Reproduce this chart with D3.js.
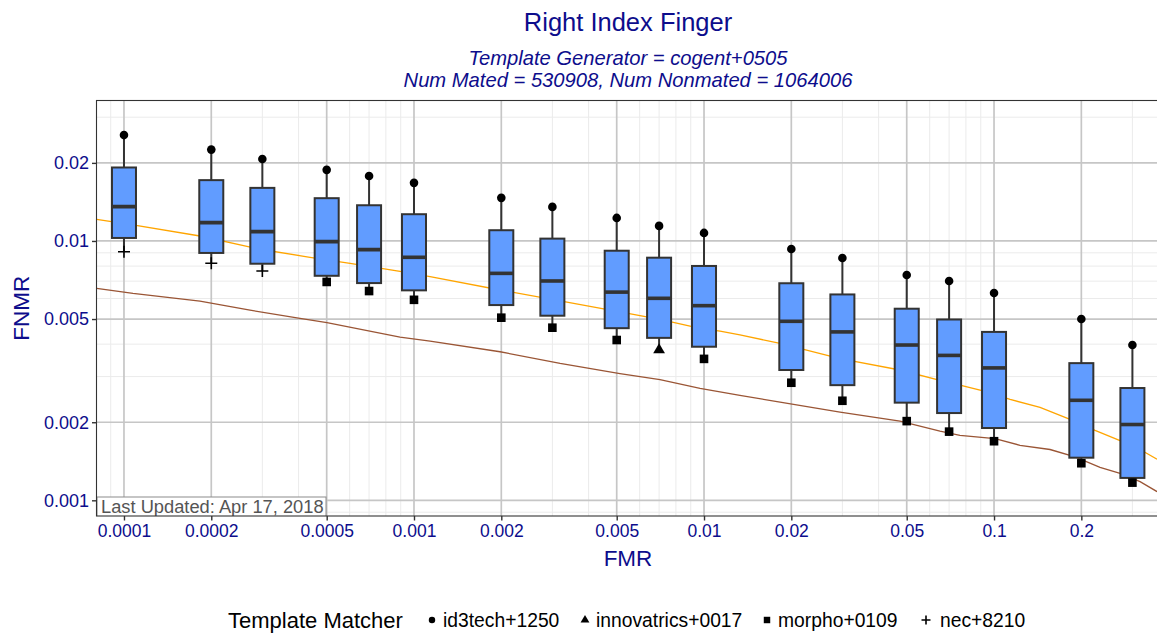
<!DOCTYPE html>
<html><head><meta charset="utf-8">
<script src="https://cdn.jsdelivr.net/npm/d3@7"></script>
<style>body{margin:0;background:#fff}svg{display:block;font-family:"Liberation Sans",Arial,sans-serif}</style>
</head><body><svg id="c" width="1157" height="633"></svg>
<script>
// ---- data ----
const fmr   = [0.0001,0.0002,0.0003,0.0005,0.0007,0.001,0.002,0.003,0.005,0.007,0.01,0.02,0.03,0.05,0.07,0.1,0.2,0.3];
const hiVal = [0.0256,0.0225,0.0207,0.0188,0.0178,0.01675,0.01466,0.01353,0.01227,0.01143,0.01074,0.00931,0.0086,0.00739,0.00701,0.0063,0.0050,0.00397];
const q3Val = [0.0192,0.01716,0.01602,0.01462,0.01373,0.01268,0.0110,0.01021,0.00917,0.00862,0.00801,0.00687,0.00622,0.00548,0.00498,0.00446,0.00338,0.00271];
const medVal= [0.01356,0.01177,0.01086,0.00994,0.00926,0.00865,0.0075,0.00701,0.00635,0.00601,0.00563,0.0049,0.00446,0.00397,0.00362,0.00324,0.00243,0.00196];
const q1Val = [0.01027,0.00899,0.00817,0.00734,0.00688,0.00645,0.00566,0.00515,0.00461,0.00423,0.00391,0.00318,0.00278,0.00238,0.00217,0.0019,0.00146,0.00122];
const loVal = [0.00909,0.0082,0.00766,0.00695,0.00641,0.00593,0.00506,0.00463,0.00415,0.0038,0.00351,0.00284,0.00242,0.00202,0.00184,0.00169,0.00139,0.00117];
const hiMatcher = fmr.map(()=> "id3tech+1250");
const loMatcher = ["nec+8210","nec+8210","nec+8210","morpho+0109","morpho+0109","morpho+0109","morpho+0109","morpho+0109","morpho+0109","innovatrics+0017","morpho+0109","morpho+0109","morpho+0109","morpho+0109","morpho+0109","morpho+0109","morpho+0109","morpho+0109"];
const orangeFMR  = [8.05e-5,1.074e-4,1.828e-4,2.944e-4,4.38e-4,6.02e-4,8.95e-4,1.136e-3,1.98e-3,3.19e-3,5.13e-3,7.05e-3,9.69e-3,0.01136,0.0133,0.01829,0.02944,0.0474,0.0651,0.0763,0.0917,0.1136,0.1441,0.1829,0.2230,0.2720,0.3188,0.3648];
const orangeFNMR = [0.01212,0.01153,0.01045,0.00929,0.00865,0.0082,0.00764,0.00728,0.00647,0.00588,0.00533,0.00498,0.0046,0.00449,0.00434,0.00403,0.00352,0.00318,0.0029,0.00278,0.00264,0.00245,0.00228,0.00205,0.00186,0.0017,0.00157,0.00144];
const brownFMR  = [8.05e-5,1.074e-4,1.828e-4,2.72e-4,4.045e-4,5.01e-4,8.95e-4,1.136e-3,1.98e-3,3.19e-3,5.13e-3,7.05e-3,9.69e-3,0.0133,0.01829,0.02944,0.0474,0.0651,0.0763,0.1008,0.1229,0.156,0.1903,0.232,0.272,0.3188,0.3648];
const brownFNMR = [0.00657,0.00628,0.00586,0.00541,0.00503,0.00484,0.00426,0.00411,0.00374,0.00337,0.00308,0.00292,0.0027,0.00254,0.00239,0.00219,0.00202,0.00185,0.00178,0.00173,0.00163,0.00157,0.00147,0.00134,0.00127,0.00118,0.00108];
const xTicks = [0.0001,0.0002,0.0005,0.001,0.002,0.005,0.01,0.02,0.05,0.1,0.2];
const xTickLabels = ["0.0001","0.0002","0.0005","0.001","0.002","0.005","0.01","0.02","0.05","0.1","0.2"];
const yTicks = [0.001,0.002,0.005,0.01,0.02];
const yTickLabels = ["0.001","0.002","0.005","0.01","0.02"];
const matchers = ["id3tech+1250","innovatrics+0017","morpho+0109","nec+8210"];

// ---- layout ----
const L=96.5, R=1159.5, T=100.5, B=516;
const x = d3.scaleLog().domain([8.04e-5,0.372]).range([L,R]);
const y = d3.scaleLog().domain([0.00087,0.0348]).range([B,T]);
const svg = d3.select("#c");
const blue = "#0d0d8c";

svg.append("defs").append("clipPath").attr("id","pc").append("rect")
  .attr("x",L).attr("y",T).attr("width",R-L).attr("height",B-T);

svg.append("rect").attr("x",L).attr("y",T).attr("width",R-L).attr("height",B-T).attr("fill","#fff");

// minor grid
function minors(lo,hi,major){
  const out=[];
  for(let e=-6;e<=1;e++) for(let m=1;m<=9;m++){
    const v=+(m*Math.pow(10,e)).toPrecision(3);
    if(v>=lo && v<=hi && !major.some(t=>Math.abs(t-v)/v<1e-6)) out.push(v);
  }
  return out;
}
const g = svg.append("g").attr("clip-path","url(#pc)");
g.selectAll(".vx").data(minors(x.domain()[0],x.domain()[1],xTicks)).join("line")
  .attr("x1",d=>x(d)).attr("x2",d=>x(d)).attr("y1",T).attr("y2",B)
  .attr("stroke","#ebebeb").attr("stroke-width",1);
g.selectAll(".hy").data(minors(y.domain()[0],y.domain()[1],yTicks)).join("line")
  .attr("y1",d=>y(d)).attr("y2",d=>y(d)).attr("x1",L).attr("x2",R)
  .attr("stroke","#ebebeb").attr("stroke-width",1);
g.selectAll(".mx").data(xTicks).join("line")
  .attr("x1",d=>x(d)).attr("x2",d=>x(d)).attr("y1",T).attr("y2",B)
  .attr("stroke","#c6c6c6").attr("stroke-width",1.7);
g.selectAll(".my").data(yTicks).join("line")
  .attr("y1",d=>y(d)).attr("y2",d=>y(d)).attr("x1",L).attr("x2",R)
  .attr("stroke","#c6c6c6").attr("stroke-width",1.7);

// curves
const line = d3.line().x(d=>x(d[0])).y(d=>y(d[1]));
g.append("path").datum(orangeFMR.map((f,i)=>[f,orangeFNMR[i]])).attr("d",line)
  .attr("fill","none").attr("stroke","#FFA500").attr("stroke-width",1.3);
g.append("path").datum(brownFMR.map((f,i)=>[f,brownFNMR[i]])).attr("d",line)
  .attr("fill","none").attr("stroke","#9a5535").attr("stroke-width",1.3);

// boxes
const half = Math.pow(10,0.0414);
const boxes = fmr.map((f,i)=>({f,hi:hiVal[i],q3:q3Val[i],med:medVal[i],q1:q1Val[i],lo:loVal[i]}));
const bg = g.append("g");
bg.selectAll(".wh").data(boxes).join("line")
  .attr("x1",d=>x(d.f)).attr("x2",d=>x(d.f)).attr("y1",d=>y(d.hi)).attr("y2",d=>y(d.q3))
  .attr("stroke","#333").attr("stroke-width",2);
bg.selectAll(".wl").data(boxes).join("line")
  .attr("x1",d=>x(d.f)).attr("x2",d=>x(d.f)).attr("y1",d=>y(d.q1)).attr("y2",d=>y(d.lo))
  .attr("stroke","#333").attr("stroke-width",2);
bg.selectAll(".bx").data(boxes).join("rect")
  .attr("x",d=>x(d.f/half)).attr("width",d=>x(d.f*half)-x(d.f/half))
  .attr("y",d=>y(d.q3)).attr("height",d=>y(d.q1)-y(d.q3))
  .attr("fill","#619CFF").attr("stroke","#333").attr("stroke-width",2);
bg.selectAll(".md").data(boxes).join("line")
  .attr("x1",d=>x(d.f/half)).attr("x2",d=>x(d.f*half)).attr("y1",d=>y(d.med)).attr("y2",d=>y(d.med))
  .attr("stroke","#333").attr("stroke-width",3.6);

// points
function shape(sel, m, s){
  if(m==="id3tech+1250") sel.append("circle").attr("r",4.3*s).attr("fill","#000");
  else if(m==="innovatrics+0017") sel.append("path").attr("d",d3.symbol(d3.symbolTriangle,60*s*s)()).attr("fill","#000");
  else if(m==="morpho+0109") sel.append("rect").attr("x",-4.3*s).attr("y",-4.3*s).attr("width",8.6*s).attr("height",8.6*s).attr("fill","#000");
  else sel.append("path").attr("d",`M${-6*s},0H${6*s}M0,${-6*s}V${6*s}`).attr("stroke","#000").attr("stroke-width",1.6).attr("fill","none");
}
const pts = [];
fmr.forEach((f,i)=>{pts.push({f,v:hiVal[i],m:hiMatcher[i]}); pts.push({f,v:loVal[i],m:loMatcher[i]});});
pts.forEach(p=>{
  const s = g.append("g").attr("transform",`translate(${x(p.f)},${y(p.v)})`);
  shape(s,p.m,1);
});

// last updated label
const lg = g.append("g");
lg.append("rect").attr("x",L+0.5).attr("y",497).attr("width",229).attr("height",22)
  .attr("fill","#fff").attr("stroke","#8c8c8c").attr("stroke-width",1);
lg.append("text").attr("x",101).attr("y",513).attr("font-size",18.3).attr("fill","#555")
  .text("Last Updated: Apr 17, 2018");

// border
svg.append("rect").attr("x",L).attr("y",T).attr("width",R-L).attr("height",B-T)
  .attr("fill","none").attr("stroke","#333").attr("stroke-width",1.1);

// axes
const ax = svg.append("g").attr("transform",`translate(0,${B})`)
  .call(d3.axisBottom(x).tickValues(xTicks).tickFormat((d,i)=>xTickLabels[i]).tickSize(4.5).tickPadding(4));
ax.select(".domain").remove();
ax.selectAll("line").attr("stroke","#333").attr("stroke-width",1.4);
ax.selectAll("text").attr("fill",blue).attr("font-size",17.5).attr("font-family","Liberation Sans, Arial, sans-serif");
const ay = svg.append("g").attr("transform",`translate(${L},0)`)
  .call(d3.axisLeft(y).tickValues(yTicks).tickFormat((d,i)=>yTickLabels[i]).tickSize(4.5).tickPadding(3));
ay.select(".domain").remove();
ay.selectAll("line").attr("stroke","#333").attr("stroke-width",1.4);
ay.selectAll("text").attr("fill",blue).attr("font-size",18).attr("font-family","Liberation Sans, Arial, sans-serif");

// titles
const cx = (L+R)/2;
svg.append("text").attr("x",cx).attr("y",31).attr("text-anchor","middle").attr("font-size",25.5).attr("fill",blue).text("Right Index Finger");
svg.append("text").attr("x",cx).attr("y",65).attr("text-anchor","middle").attr("font-size",20.2).attr("font-style","italic").attr("fill",blue).text("Template Generator = cogent+0505");
svg.append("text").attr("x",cx).attr("y",87).attr("text-anchor","middle").attr("font-size",20.2).attr("font-style","italic").attr("fill",blue).text("Num Mated = 530908, Num Nonmated = 1064006");
svg.append("text").attr("x",cx).attr("y",566).attr("text-anchor","middle").attr("font-size",22.5).attr("fill",blue).text("FMR");
svg.append("text").attr("transform",`translate(29,${(T+B)/2}) rotate(-90)`).attr("text-anchor","middle").attr("font-size",22.5).attr("fill",blue).text("FNMR");

// legend
svg.append("text").attr("x",228).attr("y",628).attr("font-size",22).attr("fill","#000").text("Template Matcher");
const legX = [432,585,767,926];
matchers.forEach((m,i)=>{
  const s = svg.append("g").attr("transform",`translate(${legX[i]},${620})`);
  shape(s,m,0.75);
  svg.append("text").attr("x",legX[i]+ (i===3?14:11)).attr("y",626.5).attr("font-size",19.3).attr("fill","#000").text(m);
});
</script></body></html>
